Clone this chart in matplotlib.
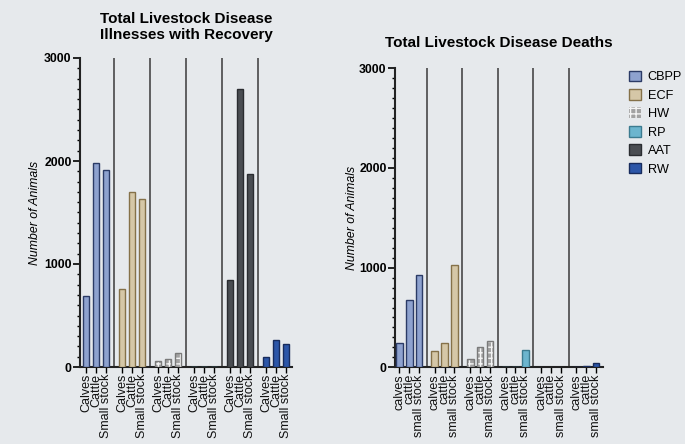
import matplotlib
matplotlib.use("Agg")
import matplotlib.pyplot as plt
from matplotlib.patches import Patch
from matplotlib.ticker import MultipleLocator
import numpy as np

plt.rcParams['font.family'] = ['Liberation Sans', 'DejaVu Sans']

diseases = ["CBPP", "ECF", "HW", "RP", "AAT", "RW"]
groups_left = ["Calves", "Cattle", "Small stock"]
groups_right = ["calves", "cattle", "small stock"]

recovery = {
    "CBPP": [690, 1985, 1910],
    "ECF": [756, 1697, 1628],
    "HW": [58, 82, 136],
    "RP": [0, 0, 0],
    "AAT": [840, 2698, 1877],
    "RW": [97, 263, 224],
}
deaths = {
    "CBPP": [244, 679, 926],
    "ECF": [164, 241, 1023],
    "HW": [87, 201, 261],
    "RP": [0, 0, 174],
    "AAT": [3, 3, 3],
    "RW": [4, 10, 40],
}

faces = {"CBPP": "#8ea2cf", "ECF": "#d5c7a7", "HW": "#a2a2a2",
         "RP": "#6cb5ce", "AAT": "#4a4d52", "RW": "#2c56a8"}
edges = {"CBPP": "#2b3b66", "ECF": "#857149", "HW": "#7a7a7a",
         "RP": "#3c7b90", "AAT": "#2a2c30", "RW": "#172b5c"}

BG = "#e6e9ec"
fig = plt.figure(figsize=(6.85, 4.44), dpi=100, facecolor=BG)

def draw(ax, data, labels, title, xlim_left, xlim_right, titlepad, ylpad):
    ax.set_facecolor(BG)
    gap = 3.6
    ticks, ticklabels = [], []
    for g, d in enumerate(diseases):
        xs = g * gap + np.arange(3)
        vals = data[d]
        if d == "HW":
            ax.bar(xs, vals, width=0.68, color=faces[d], edgecolor="#f4f4f4",
                   hatch="+++", linewidth=0, zorder=3)
            ax.bar(xs, vals, width=0.68, fill=False, edgecolor=edges[d],
                   linewidth=1.0, zorder=4)
        else:
            ax.bar(xs, vals, width=0.68, color=faces[d], edgecolor=edges[d],
                   linewidth=1.0, zorder=3)
        ticks.extend(xs)
        ticklabels.extend(labels)
        if g < len(diseases) - 1:
            ax.axvline(g * gap + 2.8, color="#3a3a3a", lw=1.1, zorder=2)
    ax.set_xticks(ticks)
    ax.set_xticklabels(ticklabels, rotation=90, fontsize=9, color="#111111")
    ax.set_xlim(-xlim_left, (len(diseases) - 1) * gap + 2 + xlim_right)
    ax.set_ylim(0, 3000)
    ax.yaxis.set_major_locator(MultipleLocator(1000))
    ax.yaxis.set_minor_locator(MultipleLocator(100))
    for lab in ax.get_yticklabels():
        lab.set_fontweight("bold")
        lab.set_fontsize(8.8)
    ax.tick_params(axis="y", which="major", length=5, width=1.2, pad=1)
    ax.tick_params(axis="y", which="minor", length=2.5, width=1.0)
    ax.tick_params(axis="x", length=4, width=1.0, pad=1)
    for s in ["top", "right"]:
        ax.spines[s].set_visible(False)
    for s in ["left", "bottom"]:
        ax.spines[s].set_linewidth(1.5)
        ax.spines[s].set_color("#222222")
    ax.set_ylabel("Number of Animals", fontstyle="italic", fontsize=8.8, labelpad=ylpad)
    ax.set_title(title, fontweight="bold", fontsize=11, pad=titlepad, linespacing=1.1)

ax1 = fig.add_axes([80/685, 1-367/444, (292-80)/685, (367-58)/444])
draw(ax1, recovery, groups_left, "Total Livestock Disease\nIllnesses with Recovery", 0.6, 0.6, 14, 2)

ax2 = fig.add_axes([395/685, 1-367.3/444, (603-395)/685, (367.3-68.3)/444])
draw(ax2, deaths, groups_right, "Total Livestock Disease Deaths", 0.45, 0.7, 15, 1)

handles = []
for d in diseases:
    if d == "HW":
        handles.append(Patch(facecolor=faces[d], edgecolor="#f4f4f4", hatch="+++", lw=0))
    else:
        handles.append(Patch(facecolor=faces[d], edgecolor=edges[d], lw=1.0))
fig.legend(handles, diseases, loc="upper left", bbox_to_anchor=(626/685, 1-68/444),
           frameon=False, fontsize=9.2, handlelength=1.0, handleheight=0.9,
           labelspacing=0.45, handletextpad=0.5, borderaxespad=0, borderpad=0.2)

fig.savefig("out.png", dpi=100, facecolor=BG)
